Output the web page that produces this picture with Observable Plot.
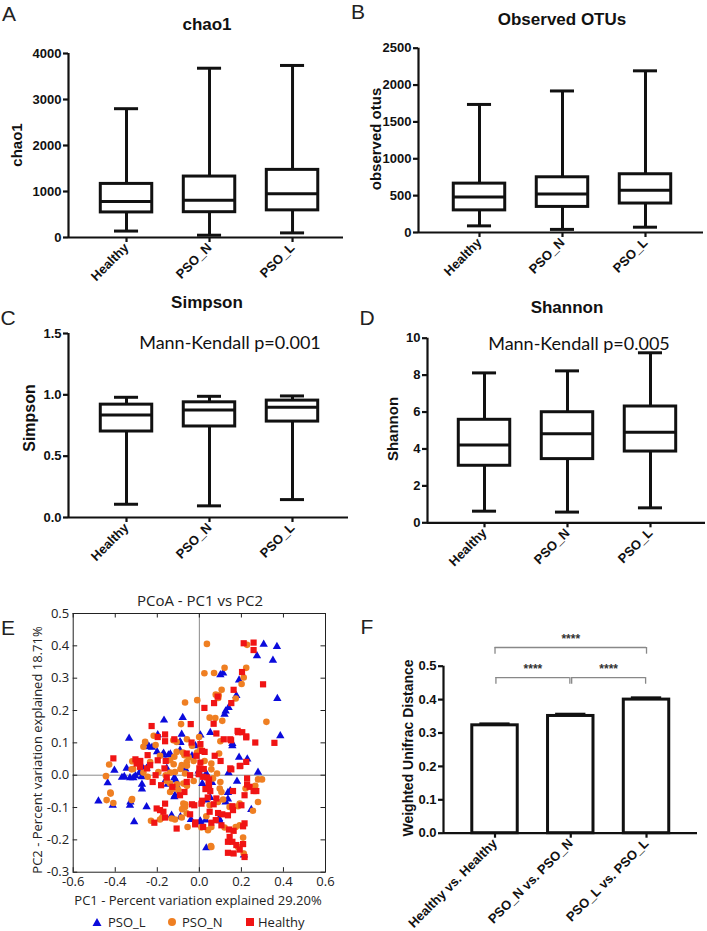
<!DOCTYPE html>
<html><head><meta charset="utf-8">
<script src="https://cdn.jsdelivr.net/npm/d3@7"></script>
<script src="https://cdn.jsdelivr.net/npm/@observablehq/plot@0.6"></script>
<style>
html,body{margin:0;padding:0;background:#fff;}
#fig{position:relative;width:707px;height:931px;overflow:hidden;background:#fff;}
.panel{position:absolute;}
.panel svg{overflow:visible;}
.lbl{position:absolute;white-space:nowrap;line-height:1;transform:translate(-50%,-50%);color:#111;}
.rot{transform:translate(-50%,-50%) rotate(-90deg);}
</style></head><body><div id="fig"></div>
<script>
// ---------- data ----------
const groups = ["Healthy", "PSO_N", "PSO_L"];
// five-number summaries per group: [min, q1, median, q3, max]
const chao1 = [[140, 545, 785, 1165, 2800], [50, 550, 810, 1325, 3680], [100, 590, 950, 1470, 3740]];
const observedOtus = [[90, 300, 483, 663, 1737], [42, 347, 523, 749, 1920], [72, 393, 573, 790, 2193]];
const simpson = [[0.108, 0.701, 0.836, 0.920, 0.980], [0.095, 0.742, 0.877, 0.939, 0.988], [0.146, 0.782, 0.899, 0.953, 0.991]];
const shannon = [[0.63, 3.09, 4.22, 5.58, 8.12], [0.58, 3.45, 4.82, 5.99, 8.23], [0.81, 3.86, 4.91, 6.30, 9.21]];
const chao1Ticks = [0, 1000, 2000, 3000, 4000];
const otusTicks = [0, 500, 1000, 1500, 2000, 2500];
const simpsonTicks = [0, 0.5, 1.0, 1.5];
const shannonTicks = [0, 2, 4, 6, 8, 10];

const distLabels = ["Healthy vs. Healthy", "PSO_N vs. PSO_N", "PSO_L vs. PSO_L"];
const distMean = [0.323, 0.351, 0.400];
const distSem = [0.005, 0.006, 0.006];
const distTicks = [0, 0.1, 0.2, 0.3, 0.4, 0.5];
const sigPairs = [[0, 1], [1, 2], [0, 2]];
const sigLabels = ["****", "****", "****"];

const pcoaXTicks = [-0.6, -0.4, -0.2, 0, 0.2, 0.4, 0.6];
const pcoaYTicks = [-0.3, -0.2, -0.1, 0, 0.1, 0.2, 0.3, 0.4, 0.5];
const pcoaGroups = ["PSO_L", "PSO_N", "Healthy"];
const pcoaL = [[0.306,0.405],[0.369,0.398],[0.274,0.369],[0.350,0.355],[0.100,0.310],[0.113,0.316],[0.189,0.294],[0.176,0.246],[0.371,0.237],[0.139,0.209],[0.125,0.198],[0.120,0.188],[0.005,0.124],[0.052,0.132],[0.385,0.122],[0.157,0.098],
[-0.079,0.178],[-0.168,0.170],[-0.334,0.114],[-0.198,0.125],[-0.084,0.126],[-0.092,0.103],
[-0.404,0.015],[-0.436,-0.024],[-0.480,-0.080],[-0.412,-0.093],[-0.346,0.021],[-0.330,-0.008],[-0.314,-0.008],[-0.271,0.024],[-0.285,0.008],[-0.251,0.021],[-0.238,0.088],[-0.274,-0.005],[-0.175,0.062],[-0.147,0.062],[-0.155,0.021],[-0.160,-0.015],[-0.119,-0.008],[-0.113,-0.015],[-0.151,-0.028],[-0.108,-0.031],[-0.116,-0.062],[-0.092,0.077],[-0.132,-0.124],[-0.310,-0.144],[-0.040,-0.137],[0.003,-0.144],[-0.119,-0.067],[-0.251,-0.098],[-0.328,-0.083],[-0.330,-0.093],
[0.157,0.091],[0.189,0.055],[0.228,0.050],[0.139,0.007],[0.279,0.009],[0.179,-0.019],[0.000,0.005],[0.033,0.005],[0.014,-0.026],[0.136,-0.054],[0.247,-0.106],[0.125,-0.083],[0.033,-0.077],[0.094,-0.134],[0.097,-0.141],[0.030,-0.139],[0.005,-0.142],[0.212,-0.247],[0.033,-0.225],
[-0.368,-0.007],[-0.357,-0.004],[-0.304,-0.002],[-0.273,-0.028],[-0.273,-0.043],[-0.090,-0.129],[-0.249,0.096],[-0.225,0.086],[-0.201,0.072],[-0.035,0.060],[-0.019,0.091],[-0.003,0.013],[-0.067,0.019],[-0.090,0.101],[-0.138,0.065],[-0.170,0.068],[0.136,-0.074],[0.147,-0.048],[0.060,-0.023],[0.052,-0.069]];
const pcoaN = [[0.036,0.406],[0.227,0.403],[0.024,0.315],[0.070,0.316],[0.120,0.332],[0.223,0.332],[0.211,0.302],[0.201,0.282],[0.106,0.264],[0.078,0.249],[0.090,0.239],[0.173,0.237],[-0.010,0.232],[-0.068,0.225],[0.092,0.247],[0.049,0.178],[0.076,0.177],[0.109,0.168],[0.319,0.165],[0.100,0.105],
[-0.087,0.158],[-0.258,0.103],[-0.124,0.108],[-0.108,0.103],[-0.001,0.118],
[-0.429,0.033],[-0.444,-0.003],[-0.422,-0.057],[-0.441,-0.077],[-0.409,-0.086],[-0.319,0.043],[-0.322,0.018],[-0.266,0.008],[-0.234,0.041],[-0.266,0.088],[-0.246,-0.005],[-0.195,0.010],[-0.187,0.060],[-0.139,0.046],[-0.160,0.000],[-0.116,0.010],[-0.139,-0.026],[-0.139,-0.052],[-0.100,-0.046],[-0.076,-0.026],[-0.068,0.005],[-0.084,0.031],[-0.060,0.041],[-0.071,0.062],[-0.108,0.072],[-0.119,0.057],[-0.208,0.093],[-0.132,-0.134],[-0.116,-0.137],[-0.230,-0.141],[-0.187,-0.137],[-0.084,-0.131],[-0.076,-0.088],[-0.056,-0.160],[-0.060,-0.118],[-0.068,-0.098],[-0.322,-0.077],
[0.094,0.067],[0.005,0.079],[0.025,0.044],[0.057,0.036],[0.057,0.018],[0.279,-0.013],[0.298,-0.013],[0.084,0.005],[0.100,-0.021],[0.065,-0.010],[0.097,-0.041],[0.105,-0.052],[0.220,-0.041],[0.279,-0.083],[0.255,-0.110],[0.192,-0.088],[0.184,-0.096],[0.144,-0.098],[0.113,-0.075],[0.089,-0.083],[0.049,-0.093],[0.033,-0.127],[0.010,-0.162],[0.041,-0.170],[0.057,-0.160],[0.120,-0.162],[0.173,-0.160],[0.192,-0.155],[0.208,-0.193],[0.184,-0.222],[0.211,-0.242],[0.057,-0.222],[0.055,-0.219],
[-0.423,-0.054],[-0.320,-0.074],[-0.315,0.019],[-0.217,0.122],[-0.177,-0.131],[-0.082,-0.105],[-0.067,-0.090],[-0.059,0.111],[-0.035,0.091],[-0.078,0.070],[-0.051,0.055],[-0.027,0.044],[-0.011,0.070],[-0.059,0.029],[-0.090,0.019],[-0.122,0.034],[-0.138,0.008],[-0.154,-0.018],[-0.106,-0.028],[-0.130,-0.043],[-0.059,-0.033],[-0.027,-0.018],[0.266,-0.033]];
const pcoaH = [[0.211,0.408],[0.258,0.410],[0.258,0.387],[0.203,0.319],[0.163,0.264],[0.303,0.281],[0.087,0.243],[0.070,0.223],[0.152,0.223],[0.024,0.208],[0.068,0.159],[0.081,0.129],[0.184,0.133],[0.204,0.133],[0.223,0.117],[0.116,0.111],[0.151,0.108],[0.266,0.101],[0.357,0.100],
[-0.041,0.158],[-0.227,0.152],[-0.198,0.118],[-0.163,0.126],[-0.163,0.105],[-0.037,0.101],
[-0.409,0.052],[-0.298,0.036],[-0.282,0.026],[-0.234,0.031],[-0.246,0.062],[-0.222,-0.021],[-0.208,0.000],[-0.182,-0.031],[-0.198,0.046],[-0.160,0.044],[-0.166,0.021],[-0.155,-0.007],[-0.128,-0.036],[-0.071,-0.052],[-0.092,-0.062],[-0.060,-0.021],[-0.044,0.000],[-0.060,0.067],[-0.203,-0.103],[-0.187,-0.108],[-0.171,-0.113],[-0.163,-0.088],[-0.163,-0.131],[-0.108,-0.165],[-0.214,-0.147],[-0.020,-0.152],[-0.044,-0.121],[-0.024,-0.093],
[0.192,0.028],[0.223,0.041],[0.101,0.044],[0.073,0.060],[0.025,0.072],[0.152,0.018],[0.227,-0.010],[0.046,-0.013],[0.018,-0.005],[0.000,0.021],[0.046,-0.031],[0.052,-0.049],[0.160,-0.049],[0.227,-0.029],[0.239,-0.036],[0.258,-0.049],[0.271,-0.049],[0.215,-0.062],[0.200,-0.093],[0.160,-0.108],[0.157,-0.096],[0.081,-0.072],[0.010,-0.088],[0.049,-0.113],[0.089,-0.117],[0.109,-0.121],[0.136,-0.124],[0.078,-0.139],[0.018,-0.160],[0.057,-0.147],[0.105,-0.155],[0.141,-0.168],[0.163,-0.172],[0.215,-0.149],[0.208,-0.158],[0.144,-0.191],[0.136,-0.206],[0.157,-0.206],[0.176,-0.216],[0.208,-0.213],[0.192,-0.230],[0.136,-0.240],[0.163,-0.242],[0.215,-0.253],
[-0.304,0.049],[-0.281,0.044],[-0.249,0.021],[-0.119,0.111],[0.005,0.096],[0.013,0.075],[-0.014,0.060],[0.005,0.039],[0.021,0.019],[-0.003,0.003],[0.036,-0.007],[0.044,-0.023],[0.029,-0.043],[0.040,-0.069],[0.013,-0.079],[0.068,-0.090],[-0.035,-0.090],[-0.019,-0.146],[0.195,0.029],[0.147,0.021],[0.147,0.111],[0.223,0.120],[0.182,0.137]];

// ---------- layout helpers ----------
const fig = document.getElementById("fig");
const INK = "#111";
function place(node, left, top) {
  const d = document.createElement("div");
  d.className = "panel";
  d.style.left = left + "px";
  d.style.top = top + "px";
  d.appendChild(node);
  fig.appendChild(d);
}
function label(text, cx, cy, css, rotate) {
  const d = document.createElement("div");
  d.className = "lbl" + (rotate ? " rot" : "");
  d.textContent = text;
  d.style.left = cx + "px";
  d.style.top = cy + "px";
  Object.assign(d.style, css);
  fig.appendChild(d);
}
const boldStyle = {fontFamily: "'Liberation Sans', Arial, sans-serif", fontSize: "13px", fontWeight: "bold", color: INK, background: "transparent", overflow: "visible"};

function boxPanel({stats, ticks, fmt, left, top, width, height, mL, mT, mB, mR, xDomain}) {
  const rows = stats.map((s, i) => ({i, min: s[0], q1: s[1], med: s[2], q3: s[3], max: s[4]}));
  const yMax = ticks[ticks.length - 1];
  const hw = 0.31, cw = 0.145;
  const p = Plot.plot({
    width, height, marginLeft: mL, marginTop: mT, marginBottom: mB, marginRight: mR,
    style: boldStyle,
    x: {domain: xDomain, axis: null},
    y: {domain: [0, yMax], axis: null},
    marks: [
      Plot.ruleX(rows, {x: "i", y1: "min", y2: "max", stroke: INK, strokeWidth: 3}),
      Plot.ruleY(rows, {y: "min", x1: d => d.i - cw, x2: d => d.i + cw, stroke: INK, strokeWidth: 3}),
      Plot.ruleY(rows, {y: "max", x1: d => d.i - cw, x2: d => d.i + cw, stroke: INK, strokeWidth: 3}),
      Plot.rect(rows, {x1: d => d.i - hw, x2: d => d.i + hw, y1: "q1", y2: "q3", fill: "white", stroke: INK, strokeWidth: 3}),
      Plot.ruleY(rows, {y: "med", x1: d => d.i - hw, x2: d => d.i + hw, stroke: INK, strokeWidth: 3}),
      Plot.ruleY([0], {stroke: INK, strokeWidth: 2.2}),
      Plot.ruleX([xDomain[0]], {y1: 0, y2: yMax, stroke: INK, strokeWidth: 2.2}),
      Plot.axisY({ticks, tickFormat: fmt, tickSize: 5, tickPadding: 2, strokeWidth: 2.2, label: null}),
      Plot.axisX({ticks: [0, 1, 2], tickFormat: i => groups[i], tickRotate: -45, tickSize: 5, tickPadding: 3, strokeWidth: 2.2, label: null})
    ]
  });
  place(p, left, top);
}

// ---------- A ----------
boxPanel({stats: chao1, ticks: chao1Ticks, fmt: d => String(d), left: 0, top: 0, width: 353, height: 300,
  mL: 68, mT: 53, mB: 63, mR: 10, xDomain: [-0.699, 2.614]});
// ---------- B ----------
boxPanel({stats: observedOtus, ticks: otusTicks, fmt: d => String(d), left: 353, top: 0, width: 354, height: 300,
  mL: 65, mT: 47.7, mB: 68, mR: 4, xDomain: [-0.735, 2.699]});
// ---------- C ----------
boxPanel({stats: simpson, ticks: simpsonTicks, fmt: d => d.toFixed(1), left: 0, top: 300, width: 353, height: 300,
  mL: 68, mT: 33, mB: 83, mR: 5, xDomain: [-0.699, 2.675]});
// ---------- D ----------
boxPanel({stats: shannon, ticks: shannonTicks, fmt: d => String(d), left: 353, top: 300, width: 354, height: 300,
  mL: 74, mT: 37.7, mB: 77.7, mR: 2, xDomain: [-0.687, 2.663]});

// ---------- E (PCoA) ----------
{
  const xMin = -0.6, xMax = 0.6, yMin = -0.3, yMax = 0.5;
  const tx = 4.5 * (xMax - xMin) / 252.3, ty = 4.5 * (yMax - yMin) / 258.7;
  const pt = d => ({x: d[0], y: d[1]});
  const p = Plot.plot({
    width: 353, height: 300, marginLeft: 72.7, marginRight: 28, marginTop: 13, marginBottom: 28.3,
    x: {domain: [xMin, xMax], axis: null},
    y: {domain: [yMin, yMax], axis: null},
    style: {fontFamily: "'Open Sans', sans-serif", fontSize: "13px", color: "#222", background: "transparent", overflow: "visible"},
    marks: [
      Plot.ruleX([0], {stroke: "#8a8a8a", strokeWidth: 1}),
      Plot.ruleY([0], {stroke: "#8a8a8a", strokeWidth: 1}),
      Plot.dot(pcoaL.map(pt), {x: "x", y: "y", symbol: "triangle", r: 3.1, fill: "#0b0bdc"}),
      Plot.dot(pcoaN.map(pt), {x: "x", y: "y", symbol: "circle", r: 3.3, fill: "#ef7f22"}),
      Plot.dot(pcoaH.map(pt), {x: "x", y: "y", symbol: "square", r: 3.5, fill: "#f01414"}),
      Plot.frame({stroke: "#222", strokeWidth: 1}),
      Plot.ruleX(pcoaXTicks, {x: d => d, y1: yMin, y2: yMin + ty, stroke: "#222"}),
      Plot.ruleX(pcoaXTicks, {x: d => d, y1: yMax, y2: yMax - ty, stroke: "#222"}),
      Plot.ruleY(pcoaYTicks, {y: d => d, x1: xMin, x2: xMin + tx, stroke: "#222"}),
      Plot.ruleY(pcoaYTicks, {y: d => d, x1: xMax, x2: xMax - tx, stroke: "#222"}),
      Plot.axisX({ticks: pcoaXTicks, tickFormat: d => d.toFixed(1), tickSize: 0, tickPadding: 5, label: null}),
      Plot.axisY({ticks: pcoaYTicks, tickFormat: d => d.toFixed(1), tickSize: 0, tickPadding: 4, label: null})
    ]
  });
  place(p, 0, 600);
}

// ---------- F (weighted UniFrac) ----------
{
  const rows = distMean.map((v, i) => ({i, v, e: distSem[i]}));
  const base = 0.466, step = 0.09, drop = 0.02, gap = 0.012;
  const br = sigPairs.map(([a, b], k) => ({a, b, lab: sigLabels[k], y: base + (b - a - 1) * step}));
  const p = Plot.plot({
    width: 354, height: 331, marginLeft: 90, marginTop: 65.7, marginBottom: 98.3, marginRight: 10,
    x: {domain: [-0.68, 2.673], axis: null},
    y: {domain: [0, 0.5], axis: null},
    style: boldStyle,
    marks: [
      Plot.ruleX(rows, {x: "i", y1: "v", y2: d => d.v + d.e, stroke: INK, strokeWidth: 2.5}),
      Plot.ruleY(rows, {y: d => d.v + d.e, x1: d => d.i - 0.2, x2: d => d.i + 0.2, stroke: INK, strokeWidth: 2.5}),
      Plot.rect(rows, {x1: d => d.i - 0.3, x2: d => d.i + 0.3, y1: 0, y2: "v", fill: "white", stroke: INK, strokeWidth: 3}),
      Plot.ruleY([0], {stroke: INK, strokeWidth: 2.2}),
      Plot.ruleX([-0.68], {y1: 0, y2: 0.5, stroke: INK, strokeWidth: 2.2}),
      Plot.ruleY(br, {y: "y", x1: d => d.a + (d.b - d.a === 1 ? gap : 0), x2: d => d.b - (d.b - d.a === 1 ? gap : 0), stroke: "#888", strokeWidth: 1.3}),
      Plot.ruleX(br, {x: d => d.a + (d.b - d.a === 1 ? gap : 0), y1: d => d.y - drop, y2: "y", stroke: "#888", strokeWidth: 1.3}),
      Plot.ruleX(br, {x: d => d.b - (d.b - d.a === 1 ? gap : 0), y1: d => d.y - drop, y2: "y", stroke: "#888", strokeWidth: 1.3}),
      Plot.text(br, {x: d => (d.a + d.b) / 2, y: "y", text: "lab", dy: -8, fontSize: 12, fill: "#333"}),
      Plot.axisY({ticks: distTicks, tickFormat: d => d.toFixed(1), tickSize: 5, tickPadding: 2, strokeWidth: 2.2, label: null}),
      Plot.axisX({ticks: [0, 1, 2], tickFormat: i => distLabels[i], tickRotate: -45, tickSize: 5, tickPadding: 3, strokeWidth: 2.2, label: null})
    ]
  });
  place(p, 353, 600);
}

// ---------- texts ----------
const letterCss = {fontFamily: "'Liberation Sans', Arial, sans-serif", fontSize: "21px", color: "#222"};
label("A", 9, 13, letterCss);
label("B", 358, 11, letterCss);
label("C", 8, 317, letterCss);
label("D", 367, 317, letterCss);
label("E", 8, 627, letterCss);
label("F", 367, 626, letterCss);

const titleCss = {fontFamily: "'Liberation Sans', Arial, sans-serif", fontSize: "17px", fontWeight: "bold"};
label("chao1", 207, 24, titleCss);
label("Observed OTUs", 562, 18.5, titleCss);
label("Simpson", 207, 302, titleCss);
label("Shannon", 567, 307, titleCss);

const ylabCss = {fontFamily: "'Liberation Sans', Arial, sans-serif", fontSize: "15px", fontWeight: "bold"};
label("chao1", 16, 145, ylabCss, true);
label("observed otus", 375, 139, ylabCss, true);
label("Simpson", 30, 418, {...ylabCss, fontSize: "16px"}, true);
label("Shannon", 392, 429, ylabCss, true);
label("Weighted Unifrac Distance", 408, 748, {...ylabCss, fontSize: "14px"}, true);

const mkCss = {fontFamily: "Lato, 'Open Sans', sans-serif", fontSize: "18px", color: "#111"};
label("Mann-Kendall p=0.001", 230, 342, mkCss);
label("Mann-Kendall p=0.005", 579, 343, mkCss);

const eCss = {fontFamily: "'Open Sans', sans-serif", fontSize: "13px", color: "#222"};
label("PCoA - PC1 vs PC2", 200, 600, {...eCss, fontSize: "15px"});
label("PC1 - Percent variation explained 29.20%", 198, 900, eCss);
label("PC2 - Percent variation explained 18.71%", 37, 750, eCss, true);

// legend
{
  const items = [
    {name: pcoaGroups[0], cx: 97, tx: 108, shape: "triangle", color: "#0b0bdc"},
    {name: pcoaGroups[1], cx: 172, tx: 182, shape: "circle", color: "#ef7f22"},
    {name: pcoaGroups[2], cx: 250, tx: 258, shape: "square", color: "#f01414"}
  ];
  for (const it of items) {
    const ns = "http://www.w3.org/2000/svg";
    const s = document.createElementNS(ns, "svg");
    s.setAttribute("width", 10); s.setAttribute("height", 10);
    let el;
    if (it.shape === "triangle") { el = document.createElementNS(ns, "polygon"); el.setAttribute("points", "5,1 9.5,9 0.5,9"); }
    else if (it.shape === "circle") { el = document.createElementNS(ns, "circle"); el.setAttribute("cx", 5); el.setAttribute("cy", 5); el.setAttribute("r", 4); }
    else { el = document.createElementNS(ns, "rect"); el.setAttribute("x", 1); el.setAttribute("y", 1); el.setAttribute("width", 8); el.setAttribute("height", 8); }
    el.setAttribute("fill", it.color);
    s.appendChild(el);
    const d = document.createElement("div");
    d.className = "panel";
    d.style.left = (it.cx - 5) + "px"; d.style.top = (922 - 5) + "px"; d.style.lineHeight = "0";
    d.appendChild(s);
    fig.appendChild(d);
    const t = document.createElement("div");
    t.className = "lbl";
    t.textContent = it.name;
    Object.assign(t.style, eCss, {left: it.tx + "px", top: "922px", transform: "translate(0,-50%)"});
    fig.appendChild(t);
  }
}
</script></body></html>
